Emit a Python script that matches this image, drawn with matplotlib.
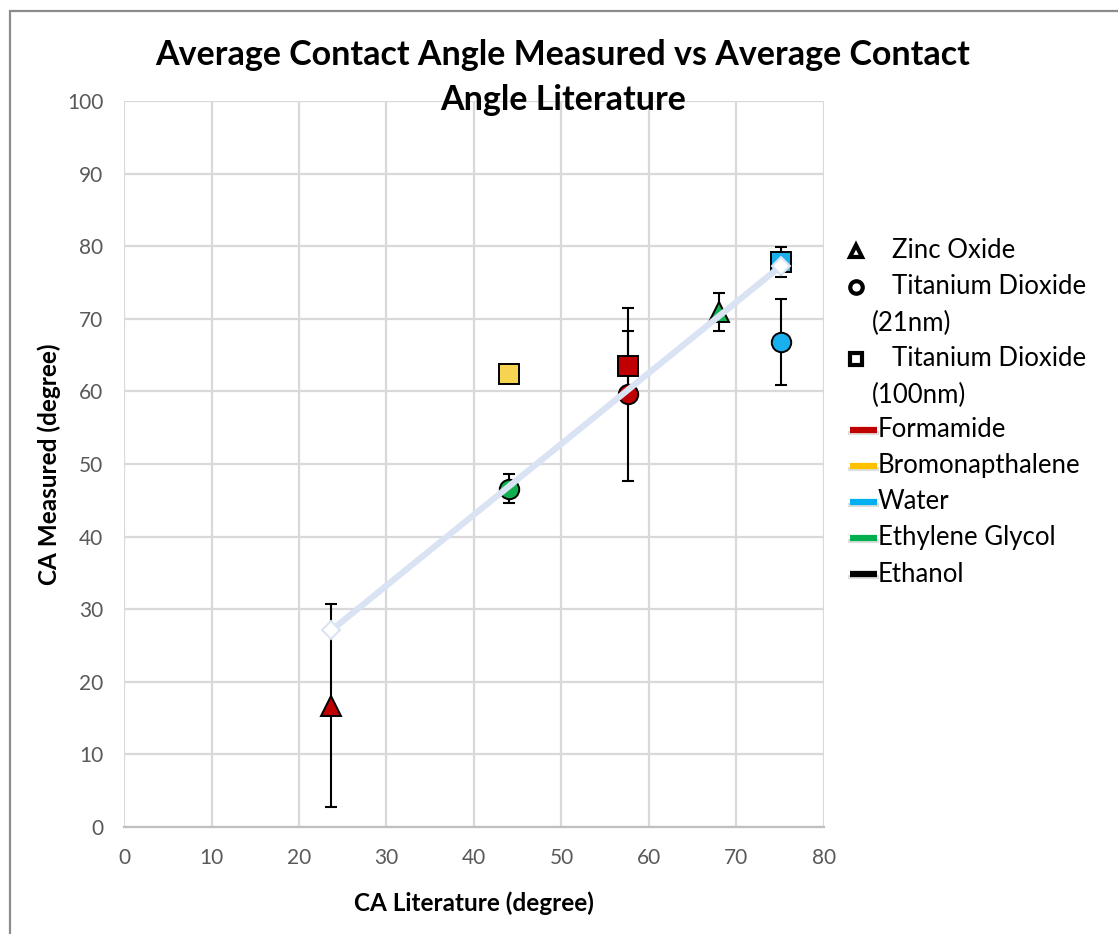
import matplotlib
matplotlib.use("Agg")
import matplotlib.pyplot as plt
from matplotlib.lines import Line2D
from matplotlib.patches import Rectangle

plt.rcParams['font.family'] = ['Lato', 'DejaVu Sans']

# ---- data ----
materials = ['Zinc Oxide', 'Titanium Dioxide (21nm)', 'Titanium Dioxide (100nm)']
material_markers = ['^', 'o', 's']
liquids = ['Formamide', 'Bromonapthalene', 'Water', 'Ethylene Glycol', 'Ethanol']
liquid_colors = ['#c00000', '#ffc000', '#00b0f0', '#00b050', '#000000']
marker_colors = ['#c00000', '#f7d352', '#1ab0ee', '#10b050', '#000000']

pt_material = [0, 0, 1, 1, 1, 2, 2, 2]
pt_liquid = [0, 3, 3, 0, 2, 1, 0, 2]
ca_literature = [23.7, 68.0, 44.0, 57.6, 75.1, 44.0, 57.6, 75.1]
ca_measured = [16.7, 70.9, 46.6, 59.6, 66.8, 62.4, 63.5, 77.8]
ca_error = [14.0, 2.6, 2.0, 11.9, 5.9, 0.0, 4.8, 2.1]

trend_x = [23.7, 75.1]
trend_y = [27.1, 77.3]

x_ticks = [0, 10, 20, 30, 40, 50, 60, 70, 80]
y_ticks = [0, 10, 20, 30, 40, 50, 60, 70, 80, 90, 100]

# ---- figure ----
W, H = 1118, 934
fig = plt.figure(figsize=(W / 100, H / 100), dpi=100)
fig.patch.set_facecolor('white')

# outer chart frame
fig.add_artist(Rectangle((9.5 / W, -0.05), 1.2, 1 - 10.5 / H + 0.05,
                         transform=fig.transFigure, fill=False,
                         edgecolor='#8c8c8c', linewidth=1.6))

ax = fig.add_axes([124 / W, (H - 827) / H, 700 / W, 726 / H])
ax.set_xlim(0, 80)
ax.set_ylim(0, 100)
ax.set_xticks(x_ticks)
ax.set_yticks(y_ticks)
ax.grid(True, color='#d9d9d9', linewidth=1.6)
ax.set_axisbelow(True)
for side in ['top', 'right', 'left']:
    ax.spines[side].set_visible(False)
ax.spines['bottom'].set_color('#bfbfbf')
ax.spines['bottom'].set_linewidth(1.6)
ax.tick_params(axis='both', length=0, labelsize=15, labelcolor='#595959')
ax.tick_params(axis='y', pad=15)
ax.tick_params(axis='x', pad=15)

# data points with error bars
for m, l, x, y, e in zip(pt_material, pt_liquid, ca_literature, ca_measured, ca_error):
    if e > 0:
        ax.errorbar(x, y, yerr=e, fmt='none', ecolor='black', elinewidth=1.5,
                    capsize=4.5, capthick=1.5, zorder=3)
    ax.plot(x, y, linestyle='none', marker=material_markers[m], markersize=14,
            markerfacecolor=marker_colors[l], markeredgecolor='black',
            markeredgewidth=1.4, zorder=4)

# linear fit line
ax.plot(trend_x, trend_y, color='#dae3f3', linewidth=4.5, solid_capstyle='butt',
        marker='D', markersize=9, markerfacecolor='white',
        markeredgecolor='#dae3f3', markeredgewidth=1.5, zorder=5)

ax.set_xlabel('CA Literature (degree)', fontsize=17.5, fontweight='bold', labelpad=17)
ax.set_ylabel('CA Measured (degree)', fontsize=17.5, fontweight='bold', labelpad=4)

fig.text(563 / W, 1 - 55 / H, 'Average Contact Angle Measured vs Average Contact',
         ha='center', va='center', fontsize=24.5, fontweight='bold')
fig.text(563 / W, 1 - 100 / H, 'Angle Literature',
         ha='center', va='center', fontsize=24.5, fontweight='bold')

# legend: material shapes
legend_rows = [(251, 0, None), (287, 1, 'Titanium Dioxide'), (323, None, '(21nm)'),
               (359, 2, 'Titanium Dioxide'), (395, None, '(100nm)')]
for ypix, mi, txt in legend_rows:
    yf = 1 - ypix / H
    if mi is not None:
        fig.add_artist(Line2D([856 / W], [yf], transform=fig.transFigure,
                              marker=material_markers[mi], markersize=9,
                              markerfacecolor='white', markeredgecolor='black',
                              markeredgewidth=3.0, linestyle='none'))
        label = materials[mi] if txt is None else txt
        fig.text(892 / W, yf, label, ha='left', va='center', fontsize=18.5)
    else:
        fig.text(872 / W, yf, txt, ha='left', va='center', fontsize=18.5)

# legend: liquid colours
for i, (name, col) in enumerate(zip(liquids, liquid_colors)):
    yf = 1 - (430 + 36 * i) / H
    fig.add_artist(Line2D([850 / W, 877 / W], [yf - 3 / H, yf - 3 / H],
                          transform=fig.transFigure, color='#c8c8c8',
                          linewidth=3, alpha=0.6))
    fig.add_artist(Line2D([850 / W, 877 / W], [yf, yf], transform=fig.transFigure,
                          color=col, linewidth=4.5, solid_capstyle='butt'))
    fig.text(878 / W, yf, name, ha='left', va='center', fontsize=18.5)

fig.savefig('out.png', dpi=100, facecolor='white')
